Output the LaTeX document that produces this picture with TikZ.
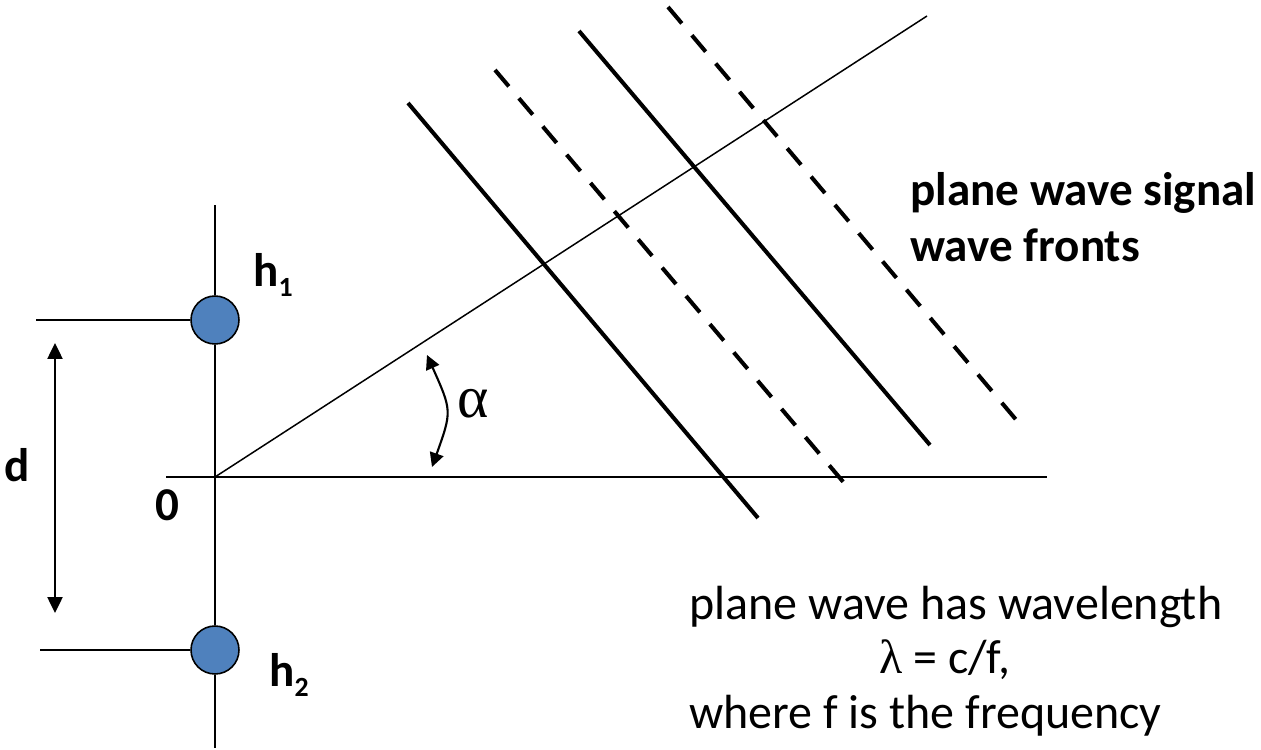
\documentclass[tikz,border=0pt]{standalone}
\usepackage{fontspec}
\setmainfont{Carlito}
\newfontfamily\grk{Liberation Serif}
\usetikzlibrary{arrows.meta}
\definecolor{sensorblue}{HTML}{4F81BD}
\begin{document}
\begin{tikzpicture}[x=0.02cm,y=-0.02cm,
  axisln/.style={line width=1.2pt},
  rayln/.style={line width=0.85pt},
  front/.style={line width=2.3pt},
  frontdash/.style={front, dash pattern=on 12.2pt off 8.85pt},
  sensor/.style={circle, draw, line width=0.9pt, fill=sensorblue, minimum size=0.96cm, inner sep=0pt},
  tips/.style={{Triangle[width=8pt,length=8pt]}-{Triangle[width=8pt,length=8pt]}},
  bigtxt/.style={font=\fontsize{27.3}{32}\selectfont, inner sep=0pt, anchor=base west},
  boldtxt/.style={bigtxt, font=\fontsize{26.8}{32}\selectfont\bfseries}]
\useasboundingbox (0,0) rectangle (1261,750);
% key points
\coordinate (O) at (215,477);
\coordinate (vtop) at (215,205);
\coordinate (vbot) at (215,748);
\coordinate (hl) at (166,477);
\coordinate (hr) at (1047,477);
\coordinate (rayend) at (927,16);
\coordinate (h1l) at (36,320);
\coordinate (h2l) at (40,650);
\coordinate (dtop) at (55,343);
\coordinate (dbot) at (55,613);
\coordinate (arcb) at (432,467);
\coordinate (arct) at (427,355);
\coordinate (s1a) at (408,103);
\coordinate (s1b) at (758,518);
\coordinate (d1a) at (495,70);
\coordinate (d1b) at (845,484);
\coordinate (s2a) at (579,31);
\coordinate (s2b) at (930,445);
\coordinate (d2a) at (668,7);
\coordinate (d2b) at (1018,422);
% sensors
\node[sensor] (h1) at (215,320) {};
\node[sensor] (h2) at (215,650) {};
% axes
\draw[axisln] (vtop) -- (h1) (h1) -- (h2) (h2) -- (vbot);
\draw[axisln] (hl) -- (hr);
\draw[axisln] (h1l) -- (h1);
\draw[axisln] (h2l) -- (h2);
\draw[rayln] (O) -- (rayend);
% spacing d
\draw[axisln, {Triangle[width=8.5pt,length=9pt]}-{Triangle[width=8.5pt,length=9pt]}] (dtop) -- (dbot);
% angle
\draw[axisln, tips] (arcb) .. controls (452,411) .. (arct);
% wave fronts
\draw[front] (s1a) -- (s1b);
\draw[frontdash] (d1a) -- (d1b);
\draw[front] (s2a) -- (s2b);
\draw[frontdash] (d2a) -- (d2b);
% labels
\node[boldtxt] (lh1) at (253,286) {h\raisebox{-6.2pt}{\fontsize{15.8}{18}\selectfont 1}};
\node[boldtxt] (lh2) at (269,686) {h\raisebox{-6.2pt}{\fontsize{15.8}{18}\selectfont 2}};
\node[boldtxt] (ld) at (4,481) {d};
\node[boldtxt] (l0) at (155,520) {0};
\node[font=\fontsize{34}{38}\selectfont\grk, inner sep=0pt] (lalpha) at (473,404) {α};
\node[boldtxt] (pw1) at (910,205) {plane wave signal};
\node[boldtxt] (pw2) at (910,261) {wave fronts};
\node[bigtxt] (bt1) at (689,619) {plane wave has wavelength};
\node[bigtxt] (bt2) at (879,673) {{\grk λ} = c/f,};
\node[bigtxt] (bt3) at (689,728) {where f is the frequency};
\end{tikzpicture}
\end{document}
